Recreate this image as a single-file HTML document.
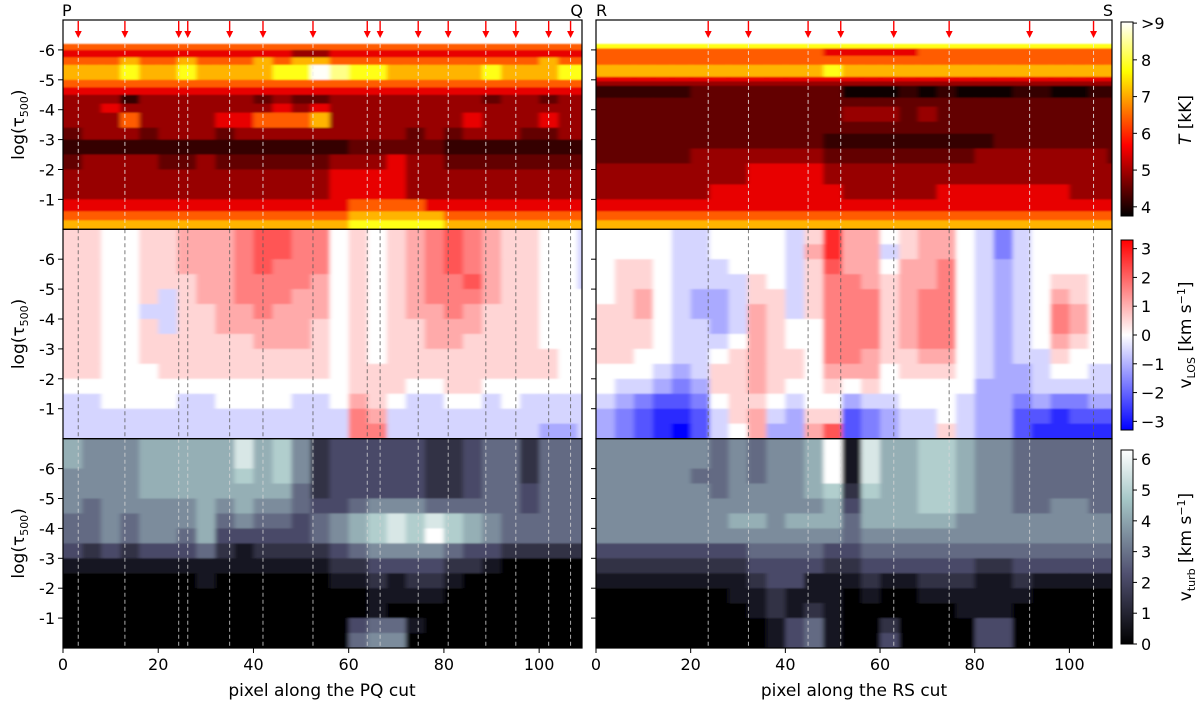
<!DOCTYPE html>
<html><head><meta charset="utf-8">
<style>
html,body{margin:0;padding:0;background:#fff;}
svg{display:block;font-family:"DejaVu Sans","Liberation Sans",sans-serif;}
</style></head>
<body>
<svg id="fig" xmlns="http://www.w3.org/2000/svg" width="1200" height="708" viewBox="0 0 1200 708">
<defs>
<filter id="soft" x="-5%" y="-5%" width="110%" height="110%"><feGaussianBlur stdDeviation="2.2 0.9"/></filter>
<linearGradient id="gT" x1="0" y1="1" x2="0" y2="0">
<stop offset="0" stop-color="#000"/><stop offset="0.365" stop-color="#f00"/><stop offset="0.746" stop-color="#ff0"/><stop offset="1" stop-color="#fff"/></linearGradient>
<linearGradient id="gV" x1="0" y1="1" x2="0" y2="0">
<stop offset="0" stop-color="#00f"/><stop offset="0.5" stop-color="#fff"/><stop offset="1" stop-color="#f00"/></linearGradient>
<linearGradient id="gB" x1="0" y1="1" x2="0" y2="0">
<stop offset="0" stop-color="#000"/><stop offset="0.365" stop-color="rgb(81,81,113)"/><stop offset="0.746" stop-color="rgb(166,199,199)"/><stop offset="1" stop-color="#fff"/></linearGradient>
</defs>
<g id="panels"></g>
<g id="overlay"></g>
</svg>
<script>
// ---- data ----
const xMax = 109;
const colWidth = 4;
const arrowsLeft = [3.2, 13, 24.3, 26.2, 35, 42, 52.5, 63.9, 66.6, 74.6, 80.9, 88.8, 95.1, 102, 106.6];
const arrowsRight = [23.7, 32.2, 44.8, 51.7, 62.9, 74.6, 91.6, 105.1];
const tickX = [0, 20, 40, 60, 80, 100];
const tickY = [-6, -5, -4, -3, -2, -1];
const depthEdges = [-7,-6.5,-6,-5.5,-5,-4.5,-4,-3.5,-3,-2.5,-2,-1.5,-1,-0.5,0];
const tEdgesLeft = [-6.2,-6.0,-5.75,-5.5,-5.0,-4.75,-4.5,-4.2,-3.9,-3.4,-3.0,-2.5,-2.0,-1.0,-0.6,-0.3,0];
const tEdgesRight = [-6.2,-6.05,-5.8,-5.5,-5.1,-4.95,-4.8,-4.4,-4.1,-3.6,-3.2,-2.7,-2.2,-1.5,-1.0,-0.6,-0.3,0];
// temperature level (kK) for each digit code
const tempLevels = [3.8, 4.15, 4.5, 4.9, 5.5, 6.4, 7.1, 7.8, 8.4, 9.0];
const tempLeft = [
"5555555555555555555555555555",
"4444444444443344444444444444",
"5556556555656655555555555655",
"6667667666677987766666766677",
"5555555555555555555555555555",
"4444444444444444444444444444",
"3331333333232233333333233233",
"3343333333343433333333333333",
"3335333344555633333334333433",
"2333233323333333332323332233",
"1111111111111112222211111111",
"2333322322222233343322222222",
"3333333333333344443333333333",
"4444444444444445555444444444",
"5555555555555556666655555555",
"6666666666666667777766666666"];
const tempRight = [
"7777777777777777777777777777",
"5555555555554444455555555555",
"5555555555555555555555555555",
"6666666666667666666666666666",
"4444444444444444444444444444",
"3333333333333333333333333333",
"1111122222222000101000110011",
"2222222222222222222222222222",
"2222222222222333232222222222",
"2222222222222222222222222222",
"2222222222221111111112222222",
"2222233333332222222233333332",
"3333333344443333333333333333",
"3333334444444333334444444333",
"4444444444444444444444444444",
"5555555555555555555555555555",
"6666666666666666666666666666"];
// LOS velocity: char index in "0123456789abc" -> (i-6)*0.55 km/s
const vlosLeft = [
"7766778889aa99676789a9877665",
"7766778889aa99676789a9877665",
"7766778889a999676789a9877665",
"776677788999986767899a877665",
"7766757889998867678999877666",
"7766557788988867678898777666",
"7766757788888767677888777666",
"7766777777888767677887777666",
"7766777777777767677777777766",
"7766677777777767777777777766",
"6666666666666667776677666666",
"5566665566665568765566565555",
"5555555555555559855555555555",
"5555555555555559955555555445"];
const vlosRight = [
"666655666657b886788653566666",
"666655666658b885788653566666",
"677655566657a886889654566666",
"6776555576579987889654567766",
"6786544577579997899654568766",
"7786544587579997899654569866",
"7776554587669997899654569866",
"7776555687669997899654568766",
"7766556787769987788654557666",
"6665457787768886777654456655",
"6554347787667676666644455555",
"5432236776566455666544343344",
"4321125785477234556544221222",
"432102568448a234557544211111"];
// turbulent velocity: digit d -> 0.7*d km/s
const vturbLeft = [
"6555666668675233333223442444",
"6555666668675233333223442444",
"5555666667675233333223442444",
"5555666666664233333223443444",
"5455555656554334555444443444",
"4454555645443456787876544444",
"4454554633333456787976544444",
"3232333421222234555543322222",
"1111111111111122333322100000",
"0000000100000011212210000000",
"0000000000000000111100000000",
"0000000000000000100000000000",
"0000000000000003441000000000",
"0000000000000004550000000000"];
const vturbRight = [
"5555554545569186677655444444",
"5555554545569186677655444444",
"5555544545569186677655444444",
"5555554555567276677655444444",
"5555555555556366677655445544",
"5555555665666466666555555555",
"5555555555555455555555555555",
"3333333344443344444444444444",
"2222222233332233333322333333",
"1111111123311121122211211111",
"0000000112111010011111100000",
"0000000012121000000111000000",
"0000000001341002000033000000",
"0000000001341003000033000000"];
const tBarTicks = [4,5,6,7,8,9];
const tBarLabels = ["4","5","6","7","8",">9"];
const vBarTicks = [-3,-2,-1,0,1,2,3];
const vBarLabels = ["\u22123","\u22122","\u22121","0","1","2","3"];
const bBarTicks = [0,1,2,3,4,5,6];

// ---- layout ----
const NS = "http://www.w3.org/2000/svg";
const cols = [{x0:63,x1:582},{x0:596,x1:1112}];
const rowTops = [20, 229.3, 438.7];
const rowH = 209.3;
const T_MIN=3.75, T_MAX=9.03, V_MAX=3.3, B_MAX=6.3;

function xScale(c, v){ return cols[c].x0 + v/xMax*(cols[c].x1-cols[c].x0); }
function yScale(r, d){ return rowTops[r] + (d+7)/7*rowH; }
function clamp(v){ return Math.max(0, Math.min(1, v)); }
function hot(t){ t=clamp(t); return [clamp(t/0.365), clamp((t-0.365)/0.381), clamp((t-0.746)/0.254)]; }
function bwr(t){ t=clamp(t); return t<0.5 ? [2*t,2*t,1] : [1,2*(1-t),2*(1-t)]; }
function bone(t){ t=clamp(t);
  const r = t<0.746 ? t/0.746*0.652 : 0.652+(t-0.746)/0.254*0.348;
  const g = t<0.365 ? t/0.365*0.319 : (t<0.746 ? 0.319+(t-0.365)/0.381*0.463 : 0.782+(t-0.746)/0.254*0.218);
  const b = t<0.365 ? t/0.365*0.444 : 0.444+(t-0.365)/0.635*0.556;
  return [r,g,b]; }
function rgb(c){ return "rgb("+Math.round(c[0]*255)+","+Math.round(c[1]*255)+","+Math.round(c[2]*255)+")"; }
const VCH = "0123456789abc";
function decT(ch){ return tempLevels[parseInt(ch,10)]; }
function decV(ch){ return (VCH.indexOf(ch)-6)*0.55; }
function decB(ch){ return 0.7*parseInt(ch,10); }
function colorT(v){ return rgb(hot((v-T_MIN)/(T_MAX-T_MIN))); }
function colorV(v){ return rgb(bwr((v+V_MAX)/(2*V_MAX))); }
function colorB(v){ return rgb(bone(v/B_MAX)); }

const panelsG = document.getElementById('panels');
const overlay = document.getElementById('overlay');
function mk(tag, attrs, parent){ const e=document.createElementNS(NS,tag); for(const k in attrs) e.setAttribute(k, attrs[k]); (parent||overlay).appendChild(e); return e; }

function drawHeat(r, c, rows, edges, dec, cmap, name){
  const x0=cols[c].x0, x1=cols[c].x1, top=rowTops[r];
  const cid = "clip-"+r+"-"+c;
  const cp = mk('clipPath',{id:cid}, panelsG);
  mk('rect',{x:x0,y:top,width:x1-x0,height:rowH}, cp);
  const outer = mk('g',{'clip-path':'url(#'+cid+')'}, panelsG);
  
  
  mk('rect',{x:x0,y:top,width:x1-x0,height:rowH,fill:'#fff'}, outer);
  const g = mk('g',{filter:'url(#soft)'}, outer);
  for(let i=0;i<rows.length;i++){
    let ya=yScale(r, edges[i]), yb=yScale(r, edges[i+1]);
    if(i===rows.length-1) yb += 6;
    if(i===0 && r>0) ya -= 6;
    for(let j=0;j<rows[i].length;j++){
      let xa=xScale(c, j*colWidth), xb=xScale(c, (j+1)*colWidth);
      if(j===0) xa -= 8;
      if(j===rows[i].length-1) xb += 8;
      const cell = mk('rect',{x:xa.toFixed(2), y:ya.toFixed(2), width:(xb-xa+0.6).toFixed(2), height:(yb-ya+0.6).toFixed(2), fill:cmap(dec(rows[i][j]))}, g);
      
      
    }
  }
}
drawHeat(0,0,tempLeft,tEdgesLeft,decT,colorT,'temperature-map-pq');
drawHeat(0,1,tempRight,tEdgesRight,decT,colorT,'temperature-map-rs');
drawHeat(1,0,vlosLeft,depthEdges,decV,colorV,'vlos-map-pq');
drawHeat(1,1,vlosRight,depthEdges,decV,colorV,'vlos-map-rs');
drawHeat(2,0,vturbLeft,depthEdges,decB,colorB,'vturb-map-pq');
drawHeat(2,1,vturbRight,depthEdges,decB,colorB,'vturb-map-rs');

// dashed lines and arrows
const dashCols = ['rgba(235,235,235,0.85)','rgba(90,90,90,0.8)','rgba(215,215,215,0.8)'];
function drawMarks(c, arr){
  arr.forEach(v=>{
    const x = xScale(c, v);
    for(let r=0;r<3;r++){
      const yStart = r===0 ? yScale(0,-6.2) : rowTops[r];
      const ln = mk('line',{x1:x,x2:x,y1:yStart,y2:rowTops[r]+rowH,stroke:dashCols[r],'stroke-width':1,'stroke-dasharray':'4,3'});
      
      
    }
    const ar = mk('g',{});
    
    
    mk('line',{x1:x,x2:x,y1:rowTops[0]+1,y2:rowTops[0]+12,stroke:'#f00','stroke-width':1.4}, ar);
    mk('polygon',{points:(x-3.5)+','+(rowTops[0]+11)+' '+(x+3.5)+','+(rowTops[0]+11)+' '+x+','+(rowTops[0]+18),fill:'#f00'}, ar);
  });
}
drawMarks(0, arrowsLeft);
drawMarks(1, arrowsRight);

// frames and ticks
const FS = 16;
for(let r=0;r<3;r++){
  for(let c=0;c<2;c++){
    const fr = mk('rect',{x:cols[c].x0,y:rowTops[r],width:cols[c].x1-cols[c].x0,height:rowH,fill:'none',stroke:'#000','stroke-width':1.2});
    
    
    tickY.forEach(t=>{
      const y=yScale(r,t);
      mk('line',{x1:cols[c].x0-5,x2:cols[c].x0,y1:y,y2:y,stroke:'#000','stroke-width':1});
      if(c===0){
        const tx = mk('text',{x:cols[c].x0-8,y:y+6,'text-anchor':'end','font-size':FS,fill:'#000'});
        tx.textContent = '-'+Math.abs(t);
        
        
      }
    });
    if(r===2){
      tickX.forEach(t=>{
        const x=xScale(c,t);
        mk('line',{x1:x,x2:x,y1:rowTops[2]+rowH,y2:rowTops[2]+rowH+5,stroke:'#000','stroke-width':1});
        const tx = mk('text',{x:x,y:rowTops[2]+rowH+22,'text-anchor':'middle','font-size':FS,fill:'#000'});
        tx.textContent = String(t);
        
        
      });
    }
  }
  const yt = mk('text',{x:0,y:0,'text-anchor':'middle','font-size':17,fill:'#000',transform:'translate(24,'+(rowTops[r]+rowH/2)+') rotate(-90)'});
  
  
  yt.innerHTML = 'log(\u03C4<tspan font-size="11" dy="4">500</tspan><tspan dy="-4">)</tspan>';
}
// x axis titles and corner letters
[['pixel along the PQ cut',322],['pixel along the RS cut',854]].forEach(a=>{
  const t = mk('text',{x:a[1],y:696,'text-anchor':'middle','font-size':17,fill:'#000'});
  t.textContent=a[0];
  
  
});
[['P',62,'start'],['Q',583,'end'],['R',596,'start'],['S',1113,'end']].forEach(a=>{
  const t = mk('text',{x:a[1],y:16,'text-anchor':a[2],'font-size':16,fill:'#000'});
  t.textContent=a[0];
  
  
});

// colorbars
const cbX=1121, cbW=12;
function colorbar(y0,y1,grad,vmin,vmax,ticks,labels,name){
  const g = mk('g',{});
  
  
  mk('rect',{x:cbX,y:y0,width:cbW,height:y1-y0,fill:'url(#'+grad+')',stroke:'#000','stroke-width':1}, g);
  ticks.forEach((t,i)=>{
    const y = y1 - (t-vmin)/(vmax-vmin)*(y1-y0);
    mk('line',{x1:cbX+cbW,x2:cbX+cbW+4,y1:y,y2:y,stroke:'#000','stroke-width':1}, g);
    const tx = mk('text',{x:cbX+cbW+8,y:y+6,'font-size':FS,fill:'#000'}, g);
    tx.textContent = labels ? labels[i] : String(t);
  });
}
colorbar(22,216,'gT',T_MIN,T_MAX,tBarTicks,tBarLabels,'temperature-colorbar');
colorbar(240,430,'gV',-V_MAX,V_MAX,vBarTicks,vBarLabels,'vlos-colorbar');
colorbar(450,644,'gB',0,B_MAX,bBarTicks,null,'vturb-colorbar');
function cbTitle(y,html,name){
  const t = mk('text',{x:0,y:0,'text-anchor':'middle','font-size':17,fill:'#000',transform:'translate(1191,'+y+') rotate(-90)'});
  t.innerHTML = html;
  
  
}
cbTitle(120,'<tspan font-style="italic">T</tspan> [kK]','temperature-colorbar-title');
cbTitle(335,'v<tspan font-size="11" dy="4">LOS</tspan><tspan dy="-4"> [km s</tspan><tspan font-size="11" dy="-6">\u22121</tspan><tspan dy="6">]</tspan>','vlos-colorbar-title');
cbTitle(547,'v<tspan font-size="11" dy="4">turb</tspan><tspan dy="-4"> [km s</tspan><tspan font-size="11" dy="-6">\u22121</tspan><tspan dy="6">]</tspan>','vturb-colorbar-title');
</script>
</body></html>
